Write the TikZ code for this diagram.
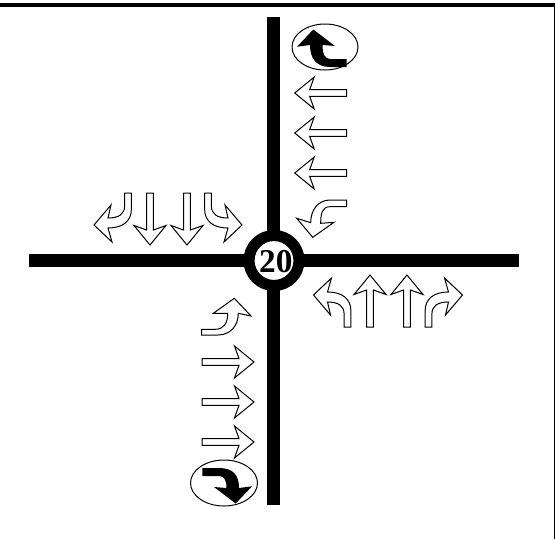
\documentclass[tikz,border=0pt]{standalone}
\usepackage{fontspec}
\setmainfont{Liberation Serif}
\tikzset{
  x=0.75pt, y=-0.75pt,
  lane/.style={draw=black, fill=white, line width=0.75pt, line join=miter},
  road/.style={line width=9.2pt, black},
  pics/straightlane/.style={code={
    \path[lane] (-3.4,0) -- (-3.4,-37) -- (-16,-32.5) -- (0,-52) -- (16,-32.5) -- (3.4,-37) -- (3.4,0) -- cycle;
  }},
  pics/turnlane/.style={code={
    \path[lane] (-3.4,0) -- (-3.4,-13) .. controls (-3.4,-21) and (-9,-25) .. (-20,-25) -- (-17,-12) -- (-34,-32) -- (-16,-49) -- (-20,-35)
      .. controls (-5,-35) and (3.4,-28) .. (3.4,-16) -- (3.4,0) -- cycle;
  }},
}
\begin{document}
\begin{tikzpicture}
  \useasboundingbox (0,0) rectangle (555,539);
  \draw[line width=2.8pt] (0,5.2) -- (555,5.2);
  \draw[line width=1pt] (554.6,5) -- (554.6,539);

  \coordinate (north) at (273.5,16.5);
  \coordinate (south) at (273.5,504.5);
  \coordinate (west) at (29,260.5);
  \coordinate (east) at (519,260.5);
  \draw[road] (north) -- (south);
  \draw[road] (west) -- (east);
  \node[circle, draw=black, fill=white, line width=8.3pt, minimum size=37.5pt, inner sep=0pt] (hub) at (274,260.5) {};
  \node[inner sep=0pt] (speed) at (275.8,261.2) {\fontsize{25}{25}\selectfont\bfseries 20};

  % from the south
  \pic at (347.5,327) {turnlane};
  \pic at (370,327) {straightlane};
  \pic at (407,327) {straightlane};
  \pic[xscale=-1] at (428.5,327) {turnlane};

  % from the north
  \pic[rotate=180] at (208,193) {turnlane};
  \pic[rotate=180] at (150,193) {straightlane};
  \pic[rotate=180] at (187,193) {straightlane};
  \pic[rotate=180,xscale=-1] at (128,193) {turnlane};

  % from the east
  \pic[rotate=90] at (346.7,93) {straightlane};
  \pic[rotate=90] at (346.7,133) {straightlane};
  \pic[rotate=90] at (346.7,173) {straightlane};
  \path[lane] (346.7,200) -- (330,200) .. controls (318,200) and (310.7,210) .. (310.7,222.7) -- (296.7,218.3) -- (312.7,237.3) -- (334,222.3) -- (320.7,223.3)
    .. controls (320.7,214) and (322,206.7) .. (330,206.7) -- (346.7,206.7) -- cycle;

  % from the west
  \pic[rotate=-90] at (202,362) {straightlane};
  \pic[rotate=-90] at (202,402) {straightlane};
  \pic[rotate=-90] at (202,442) {straightlane};
  \path[lane] (201.7,329.3) -- (215,329.3) .. controls (224,329.3) and (227.7,323) .. (227.7,313.3) -- (213.3,313.3) -- (234.3,298.3) -- (251,316) -- (238.3,313.3)
    .. controls (238.3,326) and (230,335) .. (218,335) -- (201.7,335) -- cycle;

  % the two black arrows
  \draw[line width=0.75pt] (325,47) ellipse [x radius=33, y radius=23];
  \fill (346.7,59) -- (330,59) .. controls (325,59) and (322.5,54) .. (322.5,45) -- (335,46) -- (313.3,29.5) -- (297,46.7) -- (310,45)
    .. controls (310,58) and (316,67) .. (330,67) -- (346.7,67) -- cycle;
  \draw[line width=0.75pt] (224,483) ellipse [x radius=33.5, y radius=23];
  \fill (202.3,476) -- (219,476) .. controls (224,476) and (226.5,480) .. (226.5,488) -- (214,487) -- (235.7,503.5) -- (252,486.3) -- (239,488)
    .. controls (239,475) and (233,468) .. (219,468) -- (202.3,468) -- cycle;
\end{tikzpicture}
\end{document}
